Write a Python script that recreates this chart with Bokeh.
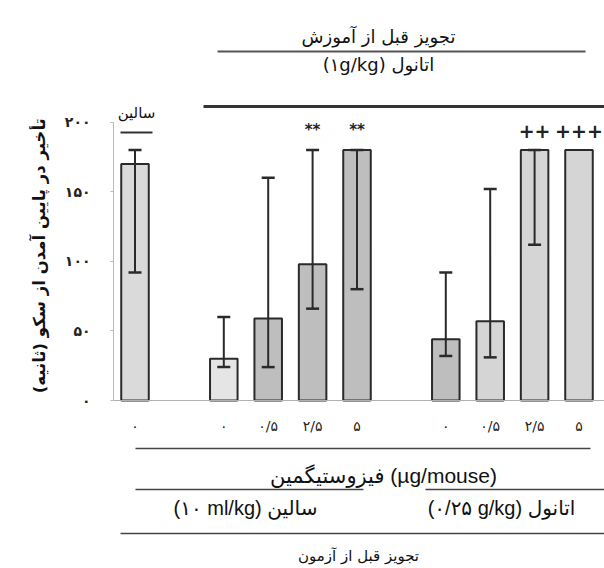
import math
from bokeh.plotting import figure
from bokeh.models import Range1d, FixedTicker, ColumnDataSource, Span
from bokeh.core.properties import value
from bokeh.embed import file_html
from bokeh.resources import INLINE

# ---------------- data ----------------
slots = [0, 2, 3, 4, 5, 7, 8, 9, 10]
dose_labels = ["۰", "۰", "۰/۵", "۲/۵", "۵", "۰", "۰/۵", "۲/۵", "۵"]
means = [170, 30, 59, 98, 180, 44, 57, 180, 180]
err_low = [92, 24, 24, 66, 80, 32, 31, 112, None]
err_high = [180, 60, 160, 180, 180, 92, 152, 180, None]
bar_colors = ["#dadada", "#e5e5e5", "#bebebe", "#bebebe", "#bebebe",
              "#bebebe", "#d5d5d5", "#d5d5d5", "#d5d5d5"]
sig_marks = ["", "", "", "**", "**", "", "", "++", "+++"]
y_ticks = [0, 50, 100, 150, 200]
y_tick_labels = ["۰", "۵۰", "۱۰۰", "۱۵۰", "۲۰۰"]

y_title = "تأخیر در پایین آمدن از سکو (ثانیه)"
top_title = "تجویز قبل از آموزش"
top_sub = "(۱g/kg) اتانول"
saline_head = "سالین"
drug_title = "فیزوستیگمین (µg/mouse)"
grp1_title = "(۱۰ ml/kg) سالین"
grp2_title = "(۰/۲۵ g/kg) اتانول"
bottom_title = "تجویز قبل از آزمون"

# ---------------- layout helpers (pixel -> data) ----------------
W, H = 604, 568
LEFT = 113
X0_PX, SLOT_PX = 134.5, 44.4
Y0_PX, VAL_PX = 400.0, 1.3915


def px2x(px):
    return (px - X0_PX) / SLOT_PX


def py2y(py):
    return (Y0_PX - py) / VAL_PX


p = figure(width=W, height=H, output_backend="svg", toolbar_location=None,
           x_range=Range1d(px2x(LEFT), px2x(W)), y_range=Range1d(py2y(H), py2y(0)),
           min_border_left=LEFT, min_border_right=0, min_border_top=0, min_border_bottom=0,
           x_axis_location=None)
p.grid.visible = False
p.outline_line_color = None
p.background_fill_color = "white"
p.border_fill_color = "white"

PFONT = "DejaVu Sans"
MIXFONT = "'Liberation Sans', 'DejaVu Sans'"

# y axis
ax = p.yaxis[0]
ax.bounds = (0, 200)
ax.ticker = FixedTicker(ticks=y_ticks)
ax.major_label_overrides = {t: l for t, l in zip(y_ticks, y_tick_labels)}
ax.axis_line_color = "#bbbbbb"
ax.major_tick_line_color = "#bbbbbb"
ax.major_tick_in = 0
ax.major_tick_out = 3
ax.minor_tick_line_color = None
ax.major_label_standoff = 20
ax.major_label_text_font = PFONT
ax.major_label_text_font_size = "14px"
ax.major_label_text_font_style = "bold"
ax.major_label_text_color = "#222222"
# leading no-break spaces shift the title upwards to sit beside the 0-200 axis
ax.axis_label = "\u00a0" * 10 + y_title
ax.axis_label_standoff = 13
ax.axis_label_text_font = PFONT
ax.axis_label_text_font_size = "16.5px"
ax.axis_label_text_font_style = "bold"
ax.axis_label_text_color = "#111111"

# baseline
p.add_layout(Span(location=0, dimension="width", line_color="#b0b0b0", line_width=1))

# bars
src = ColumnDataSource(dict(x=slots, top=means, color=bar_colors))
p.vbar(x="x", top="top", bottom=0, width=0.62, source=src,
       fill_color="color", line_color="#2a2a2a", line_width=2)

# error bars
ex = [s for s, lo in zip(slots, err_low) if lo is not None]
elo = [lo for lo in err_low if lo is not None]
ehi = [hi for hi in err_high if hi is not None]
cap = 6.5 / SLOT_PX
p.segment(x0=ex, y0=elo, x1=ex, y1=ehi, line_color="#2a2a2a", line_width=2)
p.segment(x0=[x - cap for x in ex], y0=elo, x1=[x + cap for x in ex], y1=elo,
          line_color="#2a2a2a", line_width=2.5)
p.segment(x0=[x - cap for x in ex], y0=ehi, x1=[x + cap for x in ex], y1=ehi,
          line_color="#2a2a2a", line_width=2.5)

# significance marks
star_x = [s for s, m in zip(slots, sig_marks) if m.startswith("*")]
star_t = [m for m in sig_marks if m.startswith("*")]
plus_x = [s for s, m in zip(slots, sig_marks) if m.startswith("+")]
plus_t = [m for m in sig_marks if m.startswith("+")]
p.text(x=star_x, y=[py2y(129)] * len(star_x), text=star_t, text_align="center",
       text_baseline="middle", text_font=value(PFONT), text_font_size="15px",
       text_font_style="bold", text_color="#222222")
p.text(x=plus_x, y=[py2y(130)] * len(plus_x), text=plus_t, text_align="center",
       text_baseline="middle", text_font=value(PFONT), text_font_size="19px",
       text_font_style="bold", text_color="#222222")

# dose tick labels
p.text(x=slots, y=[py2y(425)] * len(slots), text=dose_labels, text_align="center",
       text_baseline="middle", text_font=value(PFONT), text_font_size="14px",
       text_color="#222222")


def hline(x0px, x1px, ypx, width=1.5, color="#444444"):
    p.segment(x0=[px2x(x0px)], y0=[py2y(ypx)], x1=[px2x(x1px)], y1=[py2y(ypx)],
              line_color=color, line_width=width)


def label(txt, xpx, ypx, size="15px", font=PFONT, style="normal"):
    p.text(x=[px2x(xpx)], y=[py2y(ypx)], text=[txt], text_align="center",
           text_baseline="middle", text_font=value(font), text_font_size=size,
           text_font_style=style, text_color="#111111")


# top annotations
label(top_title, 378, 36, "18px")
hline(217, 585, 51, 1.8, "#555555")
label(top_sub, 378, 64, "18px")
hline(203, 604, 106, 3, "#333333")
label(saline_head, 136, 112, "15px")
hline(120, 152, 132, 1.8, "#333333")

# bottom annotations
hline(135, 590, 448, 1.5, "#444444")
label(drug_title, 383, 475, "21px", MIXFONT)
hline(135, 363, 489, 1.5, "#444444")
hline(425, 604, 489, 1.5, "#444444")
label(grp1_title, 245, 507, "20px", MIXFONT)
label(grp2_title, 501, 507, "20px", MIXFONT)
hline(120, 604, 533, 1.5, "#444444")
label(bottom_title, 358, 555, "15px")

open("out.html", "w").write(file_html(p, INLINE))
